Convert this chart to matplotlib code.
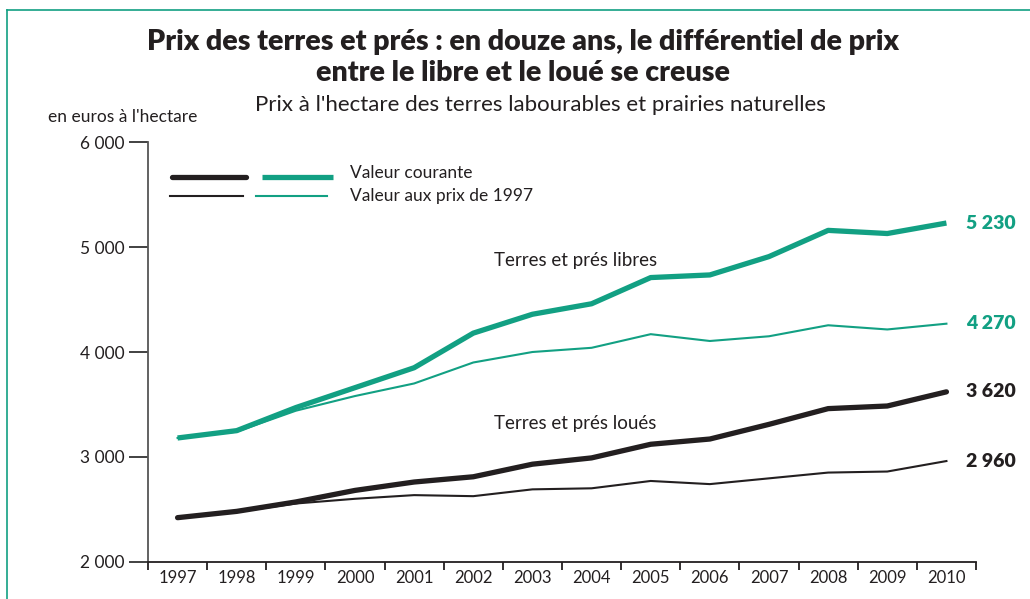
import matplotlib
matplotlib.use("Agg")
import matplotlib.pyplot as plt
from matplotlib.lines import Line2D

# data (euros per hectare)
years = list(range(1997, 2011))
libre_courant = [3180, 3250, 3470, 3660, 3850, 4180, 4360, 4460, 4710, 4735, 4910, 5160, 5130, 5230]
libre_1997 = [3180, 3240, 3440, 3580, 3700, 3900, 4000, 4040, 4170, 4105, 4150, 4255, 4215, 4270]
loue_courant = [2420, 2480, 2570, 2680, 2760, 2810, 2930, 2990, 3120, 3170, 3310, 3460, 3485, 3620]
loue_1997 = [2420, 2475, 2555, 2600, 2635, 2625, 2690, 2700, 2770, 2740, 2795, 2850, 2860, 2960]
end_labels = ["5 230", "4 270", "3 620", "2 960"]
y_ticks = [2000, 3000, 4000, 5000, 6000]
y_ticklabels = ["2 000", "3 000", "4 000", "5 000", "6 000"]

GREEN = "#12a083"
BLACK = "#231f20"
W, H = 1030, 599

plt.rcParams["font.family"] = ["Lato", "DejaVu Sans"]

fig = plt.figure(figsize=(W / 100, H / 100), dpi=100)
ax = fig.add_axes([148 / W, 1 - 561.7 / H, 828 / W, 419.4 / H])


def fx(x):
    return x / W


def fy(y):
    return 1 - y / H


# series
ax.plot(years, libre_1997, color=GREEN, lw=1.5, solid_joinstyle="miter")
ax.plot(years, loue_1997, color=BLACK, lw=1.5, solid_joinstyle="miter")
ax.plot(years, libre_courant, color=GREEN, lw=3.8, solid_capstyle="butt")
ax.plot(years, loue_courant, color=BLACK, lw=3.8, solid_capstyle="round")

ax.set_xlim(1996.5, 2010.5)
ax.set_ylim(2000, 6000)

# axes styling
for s in ["top", "right"]:
    ax.spines[s].set_visible(False)
ax.spines["left"].set_color("#555555")
ax.spines["bottom"].set_color(BLACK)
ax.spines["left"].set_linewidth(1.3)
ax.spines["bottom"].set_linewidth(1.3)

ax.set_yticks(y_ticks)
ax.set_yticklabels(y_ticklabels)
ax.tick_params(axis="y", length=14, width=1.3, color="#333333", labelsize=12.5,
               pad=3, labelcolor=BLACK)

ax.set_xticks([y - 0.5 for y in years] + [2010.5])
ax.set_xticklabels([])
ax.set_xticks(years, minor=True)
ax.set_xticklabels([str(y) for y in years], minor=True)
ax.tick_params(axis="x", which="major", length=6, width=1.3, color=BLACK, direction="out")
ax.tick_params(axis="x", which="minor", length=0, labelsize=12, pad=6, labelcolor=BLACK)

# end value labels
ends = [libre_courant[-1], libre_1997[-1], loue_courant[-1], loue_1997[-1]]
colors = [GREEN, GREEN, BLACK, BLACK]
for v, lab, c in zip(ends, end_labels, colors):
    ax.annotate(lab, (years[-1], v), xytext=(14, 0), textcoords="offset points",
                va="center", ha="left", fontsize=14, fontweight="heavy", color=c,
                annotation_clip=False)

# series names
ax.text(2002.35, 4870, "Terres et prés libres", fontsize=13.5, color=BLACK, va="center")
ax.text(2002.35, 3320, "Terres et prés loués", fontsize=13.5, color=BLACK, va="center")

# legend swatches
fig.add_artist(Line2D([fx(172), fx(246)], [fy(177), fy(177)], color=BLACK, lw=3.8,
                      solid_capstyle="round"))
fig.add_artist(Line2D([fx(262), fx(333)], [fy(177), fy(177)], color=GREEN, lw=3.8,
                      solid_capstyle="butt"))
fig.add_artist(Line2D([fx(170), fx(243)], [fy(196), fy(196)], color=BLACK, lw=1.5))
fig.add_artist(Line2D([fx(256), fx(327)], [fy(196), fy(196)], color=GREEN, lw=1.5))
fig.text(fx(350), fy(173), "Valeur courante", fontsize=12.5, va="center", color=BLACK)
fig.text(fx(350), fy(196), "Valeur aux prix de 1997", fontsize=12.5, va="center", color=BLACK)

# titles
fig.text(fx(523), fy(42), "Prix des terres et prés : en douze ans, le différentiel de prix",
         ha="center", va="center", fontsize=20.5, fontweight="heavy", color=BLACK)
fig.text(fx(523), fy(73), "entre le libre et le loué se creuse",
         ha="center", va="center", fontsize=20.5, fontweight="heavy", color=BLACK)
fig.text(fx(540), fy(105), "Prix à l'hectare des terres labourables et prairies naturelles",
         ha="center", va="center", fontsize=16, color=BLACK)
fig.text(fx(48), fy(117), "en euros à l'hectare", ha="left", va="center",
         fontsize=12.5, color=BLACK)

# green frame
fig.add_artist(Line2D([fx(7), fx(7)], [fy(10), 0], color=GREEN, lw=1.2))
fig.add_artist(Line2D([fx(7), 1], [fy(10), fy(10)], color=GREEN, lw=1.2))

fig.savefig("out.png", dpi=100)
